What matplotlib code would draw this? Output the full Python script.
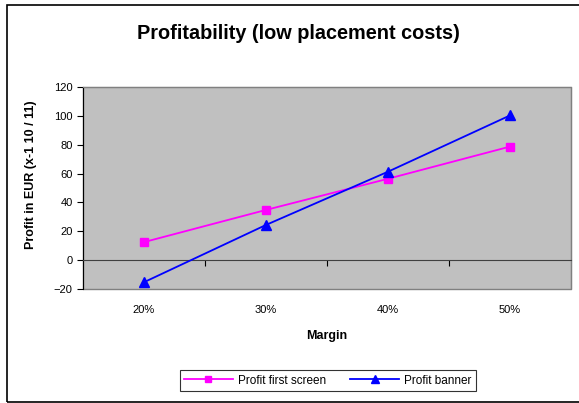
import matplotlib.pyplot as plt
from matplotlib.patches import Rectangle
import matplotlib.transforms as mtransforms

plt.rcParams['font.family'] = ['Liberation Sans', 'DejaVu Sans']

# Dados
margens = ['20%', '30%', '40%', '50%']
profit_first_screen = [12.5, 34.8, 56.4, 78.7]
profit_banner = [-15.3, 24.4, 61.3, 100.3]

fig = plt.figure(figsize=(5.79, 4.03), dpi=100)
ax = fig.add_axes([83 / 579, 0.2829, 488 / 579, 0.5012])

x = list(range(len(margens)))
ax.plot(x, profit_first_screen, '-s', color='#ff00ff', lw=1.3, ms=6,
        label='Profit first screen', zorder=3)
ax.plot(x, profit_banner, '-^', color='#0000ff', lw=1.3, ms=7,
        label='Profit banner', zorder=3)

ax.set_facecolor('#c0c0c0')
ax.set_xlim(-0.5, 3.5)
ax.set_ylim(-20, 120)
ax.set_yticks(range(-20, 121, 20))
ax.tick_params(axis='y', labelsize=8, length=4, direction='out', width=0.8)

# eixo das categorias cruza em zero
ax.spines['bottom'].set_position(('data', 0))
ax.spines['bottom'].set_color('#404040')
ax.set_xticks([0.5, 1.5, 2.5])
ax.set_xticklabels([])
ax.tick_params(axis='x', length=4, direction='out', width=0.8, colors='black')
for s in ['top', 'right']:
    ax.spines[s].set_color('#808080')
ax.spines['left'].set_color('black')
ax.add_patch(Rectangle((0, 0), 1, 1, transform=ax.transAxes, fill=False,
                       edgecolor='#808080', lw=1, zorder=1, clip_on=False))

trans = mtransforms.blended_transform_factory(ax.transData, ax.transAxes)
for i, m in enumerate(margens):
    ax.text(i, -0.105, m, transform=trans, ha='center', va='center', fontsize=8)

ax.text(0.5, -0.235, 'Margin', transform=ax.transAxes, ha='center',
        va='center', fontsize=9, fontweight='bold')
ax.set_ylabel('Profit in EUR (x-1 10 / 11)', fontsize=9, fontweight='bold')
ax.yaxis.set_label_coords(-0.095, 0.565)

fig.text(0.515, 0.916, 'Profitability (low placement costs)', ha='center',
         va='center', fontsize=14.3, fontweight='bold')

leg = fig.legend(loc='center', bbox_to_anchor=(0.5657, 0.0558), ncol=2,
                 fontsize=8.5, frameon=True, fancybox=False, handlelength=4.2,
                 columnspacing=2.0, handletextpad=0.4, borderpad=0.35,
                 markerscale=0.8)
leg.get_frame().set_edgecolor('black')
leg.get_frame().set_linewidth(0.8)

fig.patches.append(Rectangle((7 / 579, 1 / 403), 600 / 579, 397 / 403,
                             transform=fig.transFigure, fill=False,
                             edgecolor='black', lw=1.2))

fig.savefig('out.png', dpi=100)
